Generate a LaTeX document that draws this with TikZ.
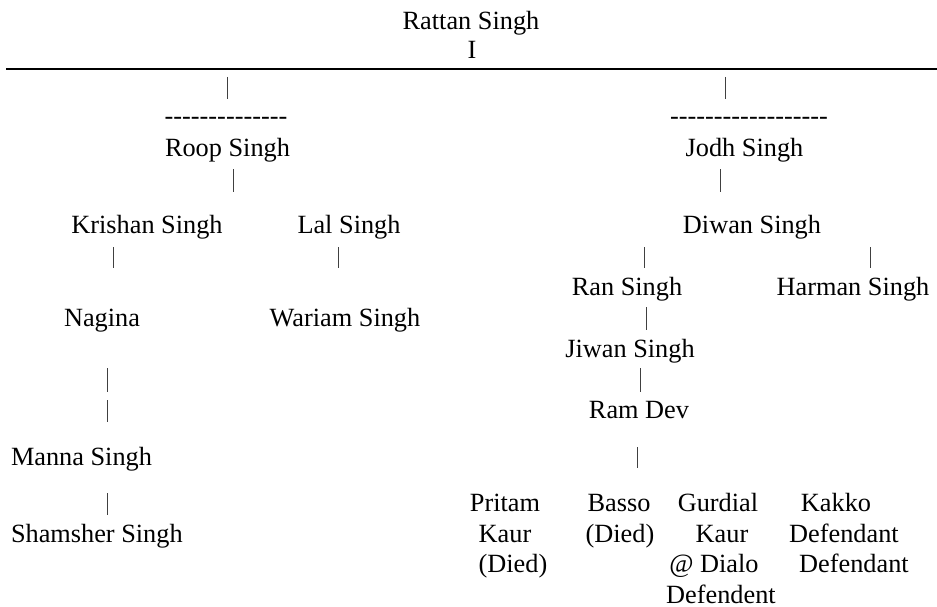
\documentclass[tikz,border=0pt]{standalone}
\usepackage{fontspec}
\setmainfont{Liberation Serif}[Ligatures=TeXOff]
\begin{document}
\begin{tikzpicture}[x=1pt,y=-1pt,
  lbl/.style={anchor=base,inner sep=0pt,outer sep=0pt,font=\fontsize{26.3}{30}\selectfont},
  pipe/.style={draw=black!75,line width=1pt},
  rule/.style={draw=black,line width=2.2pt}]
\useasboundingbox (0,0) rectangle (937,607);
% top
\node[lbl] (rattan) at (471,30) {Rattan Singh};
\node[lbl] (rI) at (472,59) {I};
\coordinate (ruleL) at (6,69);
\coordinate (ruleR) at (937,69);
\draw[rule] (ruleL) -- (ruleR);
% pipes level 1
\draw[pipe] (227,77) -- (227,99);
\draw[pipe] (725,77) -- (725,99);
\node[lbl] (dashL) at (226,125) {--------------};
\node[lbl] (dashR) at (749,125) {------------------};
\node[lbl] (roop) at (227.5,157) {Roop Singh};
\node[lbl] (jodh) at (744.5,157) {Jodh Singh};
\draw[pipe] (233,169) -- (233,192);
\draw[pipe] (720,169) -- (720,192);
\node[lbl] (krishan) at (147,233) {Krishan Singh};
\node[lbl] (lal) at (349,233) {Lal Singh};
\node[lbl] (diwan) at (752,233) {Diwan Singh};
\draw[pipe] (113,247) -- (113,268);
\draw[pipe] (338,247) -- (338,268);
\draw[pipe] (644,247) -- (644,268);
\draw[pipe] (870,247) -- (870,268);
\node[lbl] (ran) at (627,295) {Ran Singh};
\node[lbl] (harman) at (853,295) {Harman Singh};
\draw[pipe] (646,307) -- (646,330);
\node[lbl] (nagina) at (102,326) {Nagina};
\node[lbl] (wariam) at (345,326) {Wariam Singh};
\node[lbl] (jiwan) at (630,357) {Jiwan Singh};
\draw[pipe] (640,368) -- (640,392);
\draw[pipe] (107,368) -- (107,392);
\draw[pipe] (107,400) -- (107,422);
\node[lbl] (ramdev) at (639,418) {Ram Dev};
\draw[pipe] (637,447) -- (637,468);
\node[lbl,anchor=base west] (manna) at (11,465) {Manna Singh};
\draw[pipe] (107,493) -- (107,515);
\node[lbl,anchor=base west] (shamsher) at (11,542) {Shamsher Singh};
% children of Ram Dev
\node[lbl] (pritamA) at (505,511) {Pritam};
\node[lbl] (pritamB) at (505,542) {Kaur};
\node[lbl] (pritamC) at (513,572) {(Died)};
\node[lbl] (bassoA) at (619,511) {Basso};
\node[lbl] (bassoB) at (620,542) {(Died)};
\node[lbl] (gurA) at (718,511) {Gurdial};
\node[lbl] (gurB) at (722,542) {Kaur};
\node[lbl] (gurC) at (714,572) {@ Dialo};
\node[lbl] (gurD) at (721,603) {Defendent};
\node[lbl] (kakA) at (836,511) {Kakko};
\node[lbl] (kakB) at (844,542) {Defendant};
\node[lbl] (kakC) at (854,572) {Defendant};
\end{tikzpicture}
\end{document}
